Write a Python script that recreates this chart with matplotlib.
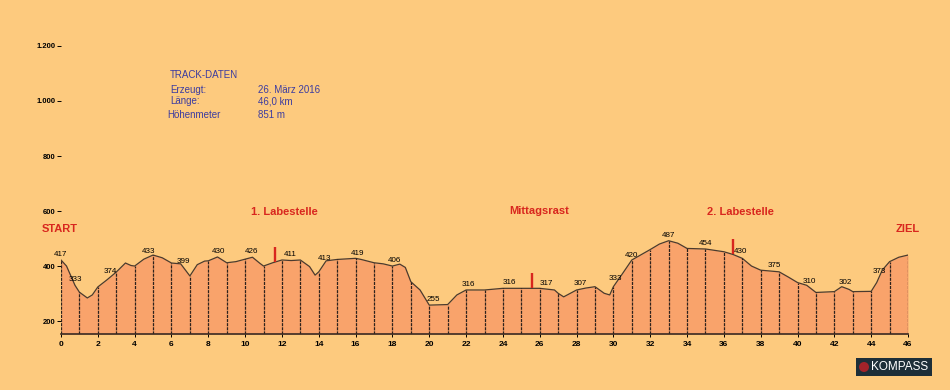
import numpy as np
import matplotlib.pyplot as plt
from matplotlib.patches import Rectangle, Ellipse

plt.rcParams['font.family'] = ['Liberation Sans', 'DejaVu Sans']

# profile (km, metres)
km = [0, 0.3, 0.76, 1.0, 1.43, 1.7, 2.0, 2.5, 3.0, 3.5, 3.8, 4.0, 4.5, 5.0, 5.5, 6.0,
      6.5, 7.0, 7.4, 7.8, 8.0, 8.5, 9.0, 9.5, 10.0, 10.4, 10.8, 11.0, 11.5, 12.0, 12.5,
      13.0, 13.5, 13.8, 14.0, 14.4, 15.0, 16.0, 16.3, 17.0, 17.5, 18.0, 18.4, 18.7,
      19.0, 19.5, 20.0, 21.0, 21.5, 22.0, 23.0, 24.0, 25.0, 26.0, 26.8, 27.0, 27.3,
      28.0, 28.5, 29.0, 29.5, 29.8, 30.0, 30.5, 31.0, 32.0, 32.5, 33.0, 33.5, 34.0,
      35.0, 36.0, 36.5, 37.0, 37.5, 38.0, 39.0, 39.5, 40.0, 40.5, 41.0, 42.0, 42.4,
      42.8, 43.0, 44.0, 44.3, 44.6, 45.0, 45.5, 46.0]
elev = [422, 400, 330, 305, 284, 295, 324, 350, 378, 411, 402, 400, 425, 440, 430, 411,
        408, 364, 405, 418, 419, 433, 412, 416, 425, 432, 410, 400, 412, 422, 420,
        422, 398, 367, 379, 419, 424, 428, 424, 412, 408, 400, 407, 395,
        343, 313, 258, 260, 295, 313, 313, 319, 319, 319, 313, 301, 288,
        313, 320, 325, 301, 295, 325, 373, 422, 460, 480, 492, 483, 464,
        462, 452, 442, 428, 400, 385, 379, 360, 340, 330, 304, 307, 325,
        315, 307, 308, 340, 385, 416, 432, 440]

# spot heights printed along the line
spot_km = [0, 0.76, 2.66, 4.73, 6.63, 8.53, 10.37, 12.44, 14.29, 16.13, 18.09, 20.2,
           22.1, 24.33, 26.34, 28.19, 30.1, 30.96, 32.97, 34.98, 36.88, 38.73, 40.63,
           42.59, 44.43]
spot_val = [417, 333, 374, 433, 399, 430, 426, 411, 413, 419, 406, 255, 316, 316, 317,
            307, 333, 420, 487, 454, 430, 375, 310, 302, 373]

# stops
stop_km = [11.6, 25.6, 36.5]
stop_names = ['1. Labestelle', 'Mittagsrast', '2. Labestelle']

yticks = [200, 400, 600, 800, 1000, 1200]
ytick_labels = ['200', '400', '600', '800', '1.000', '1.200']
xticks = list(range(0, 47, 2))

bg = '#fdca7e'
fill = '#f9a36b'
red = '#d8261e'
blue = '#3c3ca0'

fig = plt.figure(figsize=(9.5, 3.9), dpi=100, facecolor=bg)
ax = fig.add_axes([0.0642, 0.1436, 0.8916, 0.7738])
ax.set_facecolor(bg)
ymin = 153
ax.set_xlim(0, 46)
ax.set_ylim(ymin, 1250)

ax.fill_between(km, elev, ymin, color=fill, lw=0)
ax.plot(km, elev, color='#4b3a2e', lw=0.9)

for k in range(0, 47):
    top = np.interp(k, km, elev)
    ax.vlines(k, ymin, top, color='#2e221c', lw=0.9, linestyles=(0, (2.5, 0.8)))

for k, v in zip(spot_km, spot_val):
    e = np.interp(k, km, elev)
    ax.annotate(str(v), (k, e), xytext=(0, 1.5), textcoords='offset points',
                ha='center', va='bottom', fontsize=5.8, color='black')

for k in stop_km:
    e = np.interp(k, km, elev)
    ax.vlines(k, e, e + 55, color=red, lw=1.7)


def ftext(x, y, s, **kw):
    fig.text(x / 950, 1 - y / 390, s, **kw)


red_kw = dict(color=red, fontsize=8, fontweight='bold', ha='center', va='center')
ftext(284.5, 212, stop_names[0], **red_kw)
ftext(539.5, 211, stop_names[1], **red_kw)
ftext(740.5, 212, stop_names[2], **red_kw)
ftext(59.5, 229, 'START', **red_kw)
ftext(907.5, 229, 'ZIEL', **red_kw)

# track data block
rows = [('TRACK-DATEN', ''), ('Erzeugt:', '26. März 2016'),
        ('Länge:', '46,0 km'), ('Höhenmeter', '851 m')]
ys = [75, 90, 101, 115]
xs = [170, 170, 170, 167]
for (a, b), y, x in zip(rows, ys, xs):
    ftext(x, y, a, color=blue, fontsize=7, va='center')
    if b:
        ftext(258, y, b, color=blue, fontsize=7, va='center')

# logo
fig.patches.append(Rectangle((856 / 950, 1 - 376 / 390), 76 / 950, 18 / 390,
                             transform=fig.transFigure, fc='#1d2e38', ec='none'))
fig.patches.append(Ellipse((864 / 950, 1 - 367 / 390), 10 / 950, 10 / 390,
                           transform=fig.transFigure, fc='#a3232a', ec='none'))
ftext(900, 367, 'KOMPASS', color='white', fontsize=8.5, ha='center', va='center')

ax.set_yticks(yticks)
ax.set_yticklabels(ytick_labels)
ax.set_xticks(xticks)
ax.tick_params(axis='y', length=3, width=0.7, pad=1, labelsize=5.5, colors='black')
ax.tick_params(axis='x', length=2, width=0.7, pad=3, labelsize=6)
for lbl in ax.get_xticklabels() + ax.get_yticklabels():
    lbl.set_fontweight('bold')

for s in ['top', 'right', 'left']:
    ax.spines[s].set_visible(False)
ax.spines['bottom'].set_color('#3a2a22')
ax.spines['bottom'].set_linewidth(1.2)

fig.savefig('out.png', dpi=100, facecolor=bg)
